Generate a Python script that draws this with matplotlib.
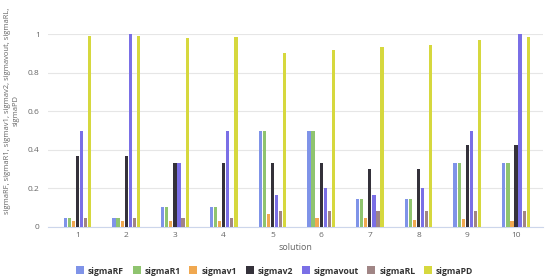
import matplotlib
matplotlib.use("Agg")
import matplotlib.pyplot as plt
from matplotlib.lines import Line2D
import numpy as np

plt.rcParams['font.family'] = ['Open Sans', 'DejaVu Sans']

categories = ['1', '2', '3', '4', '5', '6', '7', '8', '9', '10']
series_names = ['sigmaRF', 'sigmaR1', 'sigmav1', 'sigmav2', 'sigmavout', 'sigmaRL', 'sigmaPD']
sigmaRF = [0.045, 0.045, 0.10, 0.10, 0.50, 0.50, 0.145, 0.145, 0.33, 0.33]
sigmaR1 = [0.045, 0.045, 0.10, 0.10, 0.50, 0.50, 0.145, 0.145, 0.33, 0.33]
sigmav1 = [0.03, 0.03, 0.03, 0.03, 0.066, 0.045, 0.045, 0.036, 0.04, 0.03]
sigmav2 = [0.37, 0.37, 0.33, 0.33, 0.33, 0.33, 0.30, 0.30, 0.425, 0.425]
sigmavout = [0.50, 1.00, 0.33, 0.50, 0.166, 0.20, 0.166, 0.20, 0.50, 1.00]
sigmaRL = [0.045, 0.045, 0.045, 0.045, 0.083, 0.083, 0.083, 0.083, 0.083, 0.083]
sigmaPD = [0.99, 0.99, 0.98, 0.986, 0.905, 0.917, 0.933, 0.943, 0.969, 0.986]
yticks = [0, 0.2, 0.4, 0.6, 0.8, 1]
ytick_labels = ['0', '0.2', '0.4', '0.6', '0.8', '1']

data = [sigmaRF, sigmaR1, sigmav1, sigmav2, sigmavout, sigmaRL, sigmaPD]
colors = ['#7f93e8', '#8fc46f', '#f0a850', '#34313a', '#7a6fe6', '#a08585', '#d6d83e']

W, H = 550, 279
fig = plt.figure(figsize=(W / 100, H / 100), dpi=100)
left, right, bottom, top = 48, 543, 226.7, 34.3
ax = fig.add_axes([left / W, 1 - bottom / H, (right - left) / W, (bottom - top) / H])

x = np.arange(1, len(categories) + 1)
group_w = 0.585
slot = group_w / len(series_names)
bw = slot * 0.8
for i, (name, vals, c) in enumerate(zip(series_names, data, colors)):
    offs = -group_w / 2 + slot * (i + 0.5)
    ax.bar(x + offs, vals, width=bw, color=c, label=name, zorder=3, linewidth=0)

ax.set_xlim(0.395, 10.553)
ax.set_ylim(0, 1)
ax.set_yticks(yticks)
ax.set_yticklabels(ytick_labels)
ax.set_xticks(x)
ax.set_xticklabels(categories)
for s in ['top', 'right', 'left']:
    ax.spines[s].set_visible(False)
ax.spines['bottom'].set_color('#ccd6eb')
ax.spines['bottom'].set_linewidth(0.8)
ax.grid(axis='y', color='#e6e6e6', linewidth=0.8, zorder=0)
ax.tick_params(axis='y', length=0, labelsize=6, colors='#666666', pad=6)
ax.tick_params(axis='x', length=0, labelsize=6, colors='#666666', pad=4)

ax.set_xlabel('solution', fontsize=6.5, color='#666666', labelpad=3)

fig.text(12 / W, 1 - 111 / H,
         'sigmaRF, sigmaR1, sigmav1, sigmav2, sigmavout, sigmaRL,\nsigmaPD',
         rotation=90, ha='center', va='center', multialignment='center',
         fontsize=5.5, color='#666666', linespacing=1.2)

handles = [Line2D([0], [0], marker='s', linestyle='none', markersize=5.5,
                  markerfacecolor=c, markeredgewidth=0) for c in colors]
fig.legend(handles, series_names, loc='center', bbox_to_anchor=(275 / W, 1 - 271 / H),
           ncol=7, frameon=False, handlelength=0.8, handletextpad=0.5,
           columnspacing=1.1, prop={'weight': 'bold', 'size': 6.2})
leg = fig.legends[0]
for t in leg.get_texts():
    t.set_color('#333333')

fig.savefig('out.png', dpi=100)
